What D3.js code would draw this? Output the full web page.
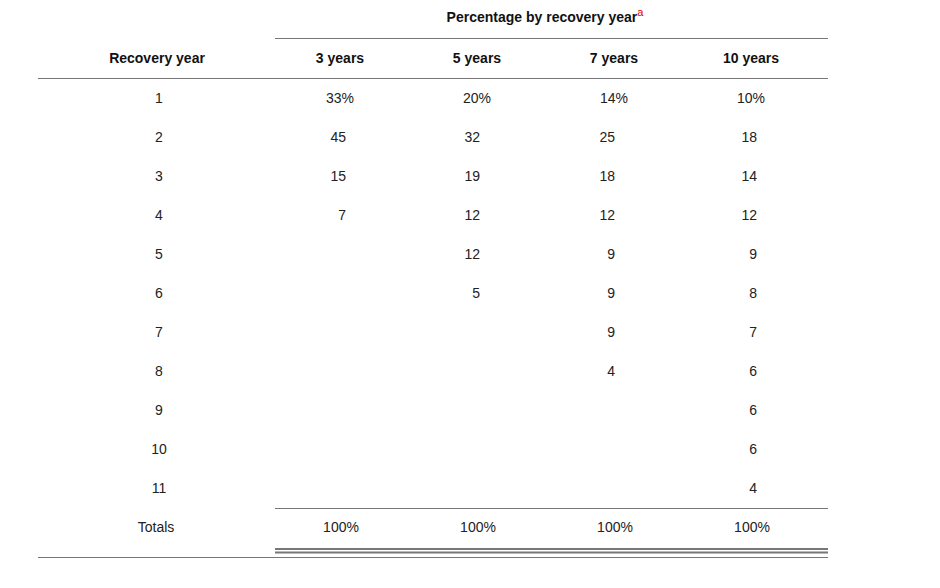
<!DOCTYPE html>
<html>
<head>
<script src="https://d3js.org/d3.v7.min.js"></script>
<style>
  body { margin: 0; background: #fff; font-family: "Liberation Sans", Arial, sans-serif; }
  text { fill: #222; font-size: 14px; }
  .hd { font-weight: bold; fill: #111; }
</style>
</head>
<body>
<svg id="t" width="940" height="588"></svg>
<script>
const periods = ["3 years", "5 years", "7 years", "10 years"];
const recoveryYears = [1, 2, 3, 4, 5, 6, 7, 8, 9, 10, 11];
const pct3 = [33, 45, 15, 7];
const pct5 = [20, 32, 19, 12, 12, 5];
const pct7 = [14, 25, 18, 12, 9, 9, 9, 4];
const pct10 = [10, 18, 14, 12, 9, 8, 7, 6, 6, 6, 4];
const series = [pct3, pct5, pct7, pct10];

const svg = d3.select("#t");
const x = d3.scalePoint().domain(periods).range([340, 751]);
const rightEdge = [346, 480, 615, 757];
const y = d3.scaleLinear().domain([1, 12]).range([98, 527]);
const line = "#777";

svg.append("text").attr("class", "hd").attr("x", 545).attr("y", 22).attr("text-anchor", "middle")
  .text("Percentage by recovery year")
  .append("tspan").attr("dy", -6).style("font-size", "11px").style("font-weight", "normal")
  .style("fill", "#d00").text("a");

function hline(x1, x2, yy, w) {
  svg.append("line").attr("x1", x1).attr("x2", x2).attr("y1", yy).attr("y2", yy)
    .attr("stroke", line).attr("stroke-width", w || 1);
}
hline(275, 828, 38.5);
hline(38, 828, 78.5);
hline(275, 828, 508.5);
hline(275, 828, 549, 2);
hline(275, 828, 552.5, 2);
hline(38, 828, 557.5);

svg.append("text").attr("class", "hd").attr("x", 157).attr("y", 63).attr("text-anchor", "middle").text("Recovery year");
svg.selectAll(".ph").data(periods).enter().append("text").attr("class", "hd")
  .attr("x", d => x(d)).attr("y", 63).attr("text-anchor", "middle").text(d => d);

svg.selectAll(".ry").data(recoveryYears).enter().append("text")
  .attr("x", 159).attr("y", d => y(d) + 5).attr("text-anchor", "middle").text(d => d);
svg.append("text").attr("x", 156).attr("y", y(12) + 5).attr("text-anchor", "middle").text("Totals");

series.forEach((vals, j) => {
  const g = svg.append("g");
  g.selectAll("text").data(vals).enter().append("text")
    .attr("x", (d, i) => i === 0 ? x(periods[j]) : rightEdge[j])
    .attr("y", (d, i) => y(i + 1) + 5)
    .attr("text-anchor", (d, i) => i === 0 ? "middle" : "end")
    .text((d, i) => i === 0 ? d + "%" : d);
  g.append("text").attr("x", x(periods[j]) + 1).attr("y", y(12) + 5)
    .attr("text-anchor", "middle").text(d3.sum(vals) + "%");
});
</script>
</body>
</html>
